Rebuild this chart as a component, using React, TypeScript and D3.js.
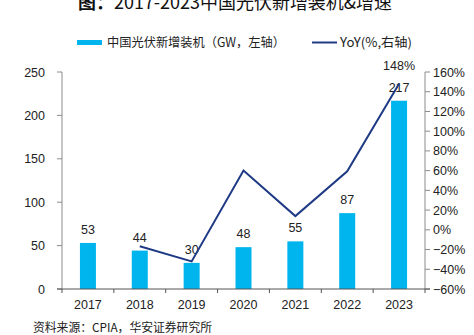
import React from "react";
import * as d3 from "d3";

const years = ["2017", "2018", "2019", "2020", "2021", "2022", "2023"];
const installed = [53.06, 44.26, 30.11, 48.2, 54.88, 87.41, 216.88];
const installedLabels = ["53", "44", "30", "48", "55", "87", "217"];
const yoyYears = ["2018", "2019", "2020", "2021", "2022", "2023"];
const yoy = [-16.6, -32.0, 60.1, 13.9, 59.3, 148.1];
const leftTicks = [0, 50, 100, 150, 200, 250];
const rightTicks = [160, 140, 120, 100, 80, 60, 40, 20, 0, -20, -40, -60];

const W = 474;
const H = 335;
const plot = { left: 62, right: 425, top: 72, bottom: 289 };
const CJK = "'Noto Sans CJK SC', sans-serif";
const LAT = "'Liberation Sans', Arial, sans-serif";
const BAR = "#00B4EE";
const LINE = "#1F3A84";
const AXIS = "#8c8c8c";

export default function App() {
  const x = d3.scaleBand<string>().domain(years).range([plot.left, plot.right]).padding(0);
  const yL = d3.scaleLinear().domain([0, 250]).range([plot.bottom, plot.top]);
  const yR = d3.scaleLinear().domain([-60, 160]).range([plot.bottom, plot.top]);
  const bw = 16;
  const cx = (c: string) => (x(c) as number) + x.bandwidth() / 2;

  const line = d3
    .line<number>()
    .x((_, i) => cx(yoyYears[i]))
    .y((d) => yR(d));

  const boundaries = d3.range(years.length + 1).map((i) => plot.left + i * x.bandwidth());

  return (
    <svg width={W} height={H} style={{ position: "absolute", left: 0, top: 0, background: "#fff" }}>
      {/* Title */}
      <text x={78} y={9} fontFamily={CJK} fontSize={18} fill="#111" textLength={314} lengthAdjust="spacingAndGlyphs">
        <tspan fontWeight="bold">图：</tspan>
        <tspan>2017-2023中国光伏新增装机&amp;增速</tspan>
      </text>

      {/* Legend */}
      <rect x={77} y={40} width={25} height={5} fill={BAR} />
      <text x={107} y={47} fontFamily={CJK} fontSize={12.5} fill="#222" textLength={178} lengthAdjust="spacingAndGlyphs">
        中国光伏新增装机（GW，左轴）
      </text>
      <line x1={312} x2={337} y1={42.5} y2={42.5} stroke={LINE} strokeWidth={2} />
      <text x={340} y={47} fontFamily={CJK} fontSize={12.5} fill="#222" textLength={72} lengthAdjust="spacingAndGlyphs">
        YoY(%,右轴)
      </text>

      {/* Bars */}
      {years.map((c, i) => (
        <g key={c}>
          <rect
            x={cx(c) - bw / 2}
            y={yL(installed[i])}
            width={bw}
            height={plot.bottom - yL(installed[i])}
            fill={BAR}
          />
          <text
            x={cx(c)}
            y={yL(installed[i]) - 9}
            textAnchor="middle"
            fontFamily={LAT}
            fontSize={12.5}
            fill="#222"
          >
            {installedLabels[i]}
          </text>
        </g>
      ))}

      {/* Line */}
      <path d={line(yoy) || ""} fill="none" stroke={LINE} strokeWidth={2} />
      <text
        x={cx("2023")}
        y={yR(yoy[yoy.length - 1]) - 14}
        textAnchor="middle"
        fontFamily={LAT}
        fontSize={12.5}
        fill="#222"
      >
        148%
      </text>

      {/* Left axis */}
      <line x1={plot.left} x2={plot.left} y1={plot.top} y2={plot.bottom} stroke={AXIS} />
      {leftTicks.map((t) => (
        <g key={t}>
          <line x1={plot.left - 5} x2={plot.left} y1={yL(t)} y2={yL(t)} stroke={AXIS} />
          <text x={plot.left - 17} y={yL(t) + 4.5} textAnchor="end" fontFamily={LAT} fontSize={12.5} fill="#222">
            {t}
          </text>
        </g>
      ))}

      {/* Right axis */}
      <line x1={plot.right} x2={plot.right} y1={plot.top} y2={plot.bottom} stroke={AXIS} />
      {rightTicks.map((t) => (
        <g key={t}>
          <line x1={plot.right} x2={plot.right + 5} y1={yR(t)} y2={yR(t)} stroke={AXIS} />
          <text x={plot.right + 8} y={yR(t) + 4.5} textAnchor="start" fontFamily={LAT} fontSize={12.5} fill="#222">
            {t < 0 ? "\u2212" + Math.abs(t) + "%" : t + "%"}
          </text>
        </g>
      ))}

      {/* Bottom axis */}
      <line x1={plot.left - 5} x2={plot.right + 5} y1={plot.bottom} y2={plot.bottom} stroke="#555" />
      {boundaries.map((b, i) => (
        <line key={i} x1={b} x2={b} y1={plot.bottom} y2={plot.bottom + 4} stroke="#555" />
      ))}
      {years.map((c) => (
        <text key={c} x={cx(c)} y={309} textAnchor="middle" fontFamily={LAT} fontSize={12.5} fill="#222">
          {c}
        </text>
      ))}

      {/* Source */}
      <text x={33} y={332} fontFamily={CJK} fontSize={12} fill="#222" textLength={179} lengthAdjust="spacingAndGlyphs">
        资料来源：CPIA，华安证券研究所
      </text>
    </svg>
  );
}
